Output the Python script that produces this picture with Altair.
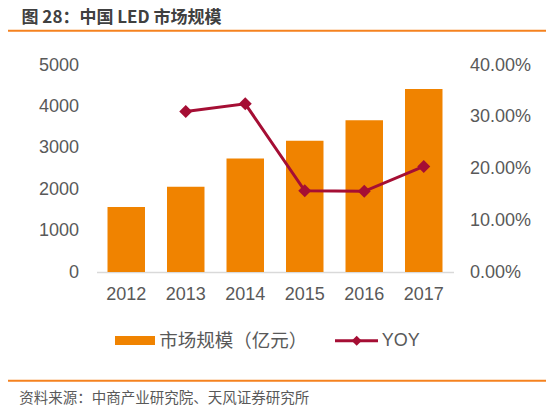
import altair as alt
import pandas as pd

years = ["2012", "2013", "2014", "2015", "2016", "2017"]
market = [1570, 2060, 2740, 3170, 3665, 4420]
yoy = [None, 0.310, 0.325, 0.157, 0.156, 0.204]

title_text = "图 28：中国 LED 市场规模"
source_text = "资料来源：中商产业研究院、天风证券研究所"
bar_legend = "市场规模（亿元）"
line_legend = "YOY"

BAR = "#F08300"
LINE = "#A50E34"
ORANGE = "#F5821F"
GRAY = "#595959"
NUMF = "Liberation Sans"
CJK = "Noto Sans CJK SC"

df = pd.DataFrame({"year": years, "market": market, "yoy": yoy})

W, H = 357, 207

xenc = alt.X("year:N", sort=years,
             scale=alt.Scale(paddingInner=0.37, paddingOuter=0.185),
             axis=alt.Axis(title=None, labelAngle=0, ticks=False, domain=True,
                           domainColor="#D9D9D9", domainWidth=1.5,
                           labelFont=NUMF, labelFontSize=18, labelColor=GRAY,
                           labelPadding=13))

bars = alt.Chart(df).mark_bar(color=BAR).encode(
    x=xenc,
    y=alt.Y("market:Q", scale=alt.Scale(domain=[0, 5000], nice=False),
            axis=alt.Axis(title=None, values=[0, 1000, 2000, 3000, 4000, 5000],
                          format="d",
                          ticks=False, domain=False, grid=False,
                          labelFont=NUMF, labelFontSize=18, labelColor=GRAY,
                          labelPadding=18)),
)

line = alt.Chart(df).mark_line(
    color=LINE, strokeWidth=3,
    point=alt.OverlayMarkDef(shape="diamond", filled=True, size=170,
                             color=LINE, opacity=1),
).encode(
    x=alt.X("year:N", sort=years),
    y=alt.Y("yoy:Q", scale=alt.Scale(domain=[0, 0.4], nice=False),
            axis=alt.Axis(title=None, orient="right", format=".2%",
                          values=[0, 0.1, 0.2, 0.3, 0.4],
                          ticks=False, domain=False, grid=False,
                          labelFont=NUMF, labelFontSize=18, labelColor=GRAY,
                          labelPadding=16)),
)

deco_df = pd.DataFrame({"k": [0]})
base = alt.Chart(deco_df)

title_m = base.mark_text(align="left", baseline="middle", font=CJK,
                         fontWeight="bold", fontSize=17, color="#404040").encode(
    x=alt.value(-75), y=alt.value(-47.5), text=alt.value(title_text))
top_rule = base.mark_rule(color=ORANGE, strokeWidth=2).encode(
    x=alt.value(-89.5), x2=alt.value(456.5), y=alt.value(-34.3))
bot_rule = base.mark_rule(color=ORANGE, strokeWidth=2).encode(
    x=alt.value(-89.5), x2=alt.value(456.5), y=alt.value(315.7))
source_m = base.mark_text(align="left", baseline="middle", font=CJK,
                          fontSize=14.5, color=GRAY).encode(
    x=alt.value(-77.2), y=alt.value(334), text=alt.value(source_text))

leg_rect = base.mark_rect(color=BAR).encode(
    x=alt.value(18.5), x2=alt.value(58.5), y=alt.value(271), y2=alt.value(280))
leg_text1 = base.mark_text(align="left", baseline="middle", font=CJK,
                           fontSize=18.5, color=GRAY).encode(
    x=alt.value(62.8), y=alt.value(275.7), text=alt.value(bar_legend))
leg_line = base.mark_rule(color=LINE, strokeWidth=3).encode(
    x=alt.value(238.5), x2=alt.value(281.5), y=alt.value(275.7))
leg_pt = base.mark_point(shape="diamond", filled=True, size=100, color=LINE,
                         opacity=1).encode(x=alt.value(260.2), y=alt.value(275.7))
leg_text2 = base.mark_text(align="left", baseline="middle", font=NUMF,
                           fontSize=18, color=GRAY).encode(
    x=alt.value(285.2), y=alt.value(275.7), text=alt.value(line_legend))

chart = alt.layer(
    bars, line,
    title_m, top_rule, bot_rule, source_m,
    leg_rect, leg_text1, leg_line, leg_pt, leg_text2,
).resolve_scale(y="independent").properties(
    width=W, height=H,
    autosize=alt.AutoSizeParams(type="none"),
    padding={"left": 88.5, "top": 57, "right": 92.5, "bottom": 137},
    background="white",
).configure_view(stroke=None)

chart.save("out.html", embed_options={"renderer": "svg", "actions": False})
